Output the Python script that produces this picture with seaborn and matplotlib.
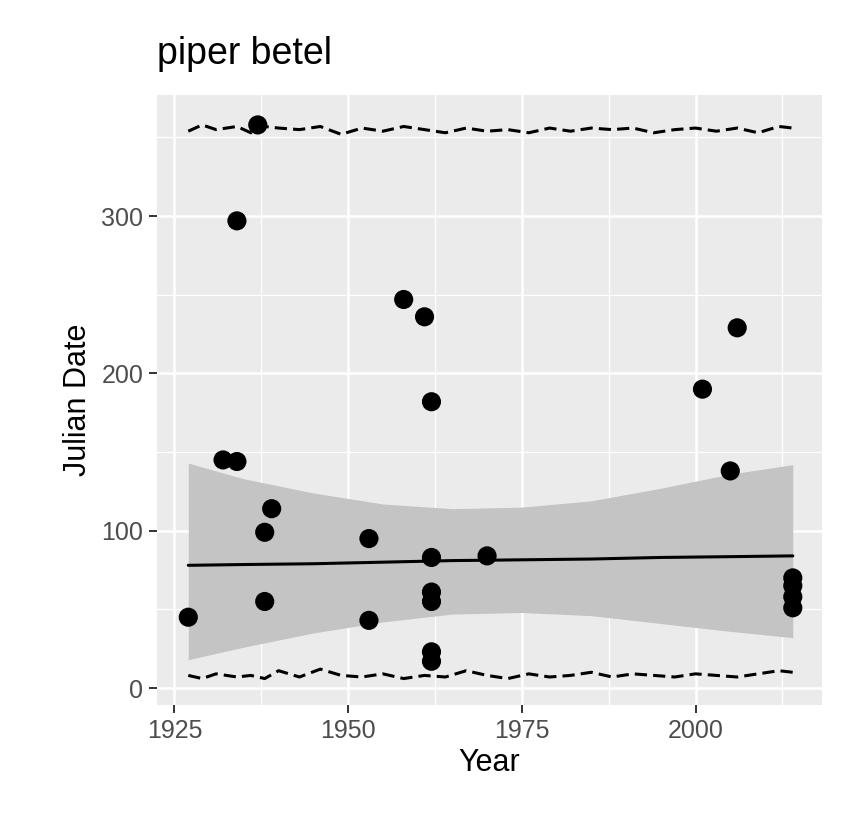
import matplotlib
matplotlib.use("Agg")
import matplotlib.pyplot as plt
import seaborn as sns
import pandas as pd
from matplotlib.ticker import MultipleLocator

years = [1927, 1932, 1934, 1934, 1937, 1938, 1938, 1939, 1953, 1953, 1958, 1961,
         1962, 1962, 1962, 1962, 1962, 1962, 1970, 2001, 2005, 2006, 2014, 2014, 2014, 2014]
julian = [45, 145, 297, 144, 358, 99, 55, 114, 95, 43, 247, 236,
          182, 83, 61, 55, 23, 17, 84, 190, 138, 229, 70, 65, 58, 51]

# fitted trend and its band
fit_years = [1927, 1935, 1945, 1955, 1965, 1975, 1985, 1995, 2005, 2014]
fit_mid = [78, 78.5, 79, 80, 81, 81.5, 82, 83, 83.5, 84]
fit_lo = [18, 26, 35, 42, 47, 48, 46, 41, 36, 32]
fit_hi = [143, 133, 124, 117, 114, 115, 119, 127, 136, 142]

q_years = [1927, 1929, 1931, 1934, 1936, 1938, 1940, 1943, 1946, 1949, 1952, 1955,
           1958, 1961, 1964, 1967, 1970, 1973, 1976, 1979, 1982, 1985, 1988, 1991,
           1994, 1997, 2000, 2003, 2006, 2009, 2012, 2014]
q_upper = [354, 358, 355, 357, 353, 357, 356, 355, 357, 352, 356, 354,
           357, 355, 353, 356, 354, 355, 353, 356, 354, 356, 355, 356,
           353, 355, 356, 354, 356, 353, 357, 356]
q_lower = [8, 6, 9, 7, 8, 6, 11, 7, 12, 8, 7, 9,
           6, 8, 7, 11, 8, 6, 9, 7, 8, 10, 7, 9,
           8, 7, 9, 8, 7, 9, 11, 10]

df = pd.DataFrame({"Year": years, "Julian Date": julian})
fdf = pd.DataFrame({"Year": fit_years, "mid": fit_mid, "lo": fit_lo, "hi": fit_hi})
qdf = pd.DataFrame({"Year": q_years, "upper": q_upper, "lower": q_lower})

sns.set_theme(style="darkgrid", rc={"axes.facecolor": "#EBEBEB", "grid.color": "white"})
plt.rcParams["font.family"] = ["Liberation Sans", "DejaVu Sans"]

fig = plt.figure(figsize=(8.46, 8.35), dpi=100)
ax = fig.add_axes([0.1856, 0.1557, 0.786, 0.7305])

ax.fill_between(fdf["Year"], fdf["lo"], fdf["hi"], color="#C4C4C4", lw=0, zorder=2)
sns.lineplot(data=fdf, x="Year", y="mid", ax=ax, color="black", lw=2.2, zorder=3)
sns.lineplot(data=qdf, x="Year", y="upper", ax=ax, color="black", lw=2.2, linestyle=(0, (4, 2)))
sns.lineplot(data=qdf, x="Year", y="lower", ax=ax, color="black", lw=2.2, linestyle=(0, (4, 2)))
sns.scatterplot(data=df, x="Year", y="Julian Date", ax=ax, s=190, color="black",
                edgecolor="none", zorder=4)

ax.set_xlim(1922.5, 2018.2)
ax.set_ylim(-10.8, 377)
ax.xaxis.set_major_locator(MultipleLocator(25))
ax.xaxis.set_minor_locator(MultipleLocator(12.5))
ax.yaxis.set_major_locator(MultipleLocator(100))
ax.yaxis.set_minor_locator(MultipleLocator(50))
ax.grid(which="major", color="white", lw=1.8)
ax.grid(which="minor", color="white", lw=0.9)
for s in ax.spines.values():
    s.set_visible(False)
ax.tick_params(axis="both", which="major", labelsize=18, colors="#4D4D4D",
               length=6, width=1.4, bottom=True, left=True, color="#333333", pad=4)
ax.tick_params(which="minor", length=0)
ax.set_xlabel("Year", fontsize=22, color="black", labelpad=4)
ax.set_ylabel("Julian Date", fontsize=22, color="black", labelpad=6)
ax.set_title("piper betel", fontsize=27, loc="left", pad=22, color="black")

fig.savefig("out.png", dpi=100)
